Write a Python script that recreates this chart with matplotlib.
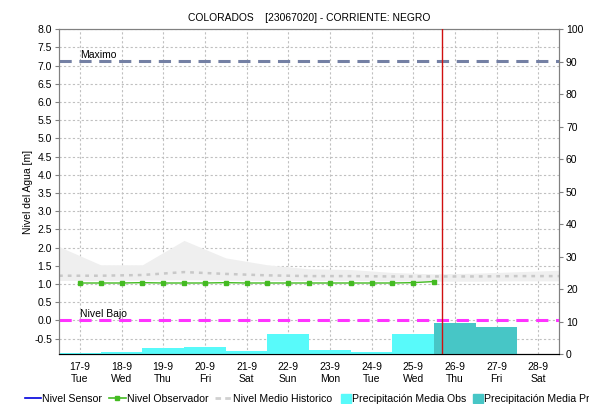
import matplotlib
matplotlib.use('Agg')
import matplotlib.pyplot as plt
from matplotlib.lines import Line2D
from matplotlib.patches import Patch

plt.rcParams['font.family'] = ['Liberation Sans', 'DejaVu Sans']

# ── datos ─────────────────────────────────────────────────────────────────
days     = ['17-9', '18-9', '19-9', '20-9', '21-9', '22-9',
            '23-9', '24-9', '25-9', '26-9', '27-9', '28-9']
weekdays = ['Tue', 'Wed', 'Thu', 'Fri', 'Sat', 'Sun',
            'Mon', 'Tue', 'Wed', 'Thu', 'Fri', 'Sat']

# nivel observador (dos lecturas por dia, en dias desde 17-9)
obs_t = [0.0, 0.5, 1.0, 1.5, 2.0, 2.5, 3.0, 3.5, 4.0,
         4.5, 5.0, 5.5, 6.0, 6.5, 7.0, 7.5, 8.0, 8.5]
obs_level = [1.03, 1.03, 1.03, 1.04, 1.03, 1.03, 1.03, 1.04, 1.03,
             1.03, 1.03, 1.03, 1.03, 1.03, 1.03, 1.03, 1.04, 1.07]

# nivel medio historico y su banda min/max
hist_t    = [-0.5, 0.5, 1.5, 2.5, 3.5, 4.5, 5.5, 6.5, 7.5, 8.5, 9.5, 10.5, 11.5]
hist_mean = [1.23, 1.23, 1.25, 1.33, 1.28, 1.24, 1.22, 1.22, 1.21, 1.21, 1.21, 1.22, 1.22]
hist_max  = [2.03, 1.53, 1.53, 2.20, 1.72, 1.53, 1.42, 1.40, 1.32, 1.28, 1.30, 1.34, 1.38]
hist_min  = [1.10, 1.10, 1.11, 1.12, 1.11, 1.10, 1.10, 1.10, 1.09, 1.08, 1.08, 1.09, 1.09]

# precipitacion media diaria [mm]
precip_obs  = [0.3, 0.6, 1.9, 2.2, 0.8, 6.1, 1.1, 0.5, 6.1]
precip_prog = [9.5, 8.2]
prog_start = len(precip_obs)

nivel_max  = 7.12
nivel_bajo = 0.0
now_t = 8.68

# ── figura ────────────────────────────────────────────────────────────────
fig = plt.figure(figsize=(5.89, 4.04), dpi=100, facecolor='white')
ax = fig.add_axes([0.1002, 0.1238, 0.8489, 0.8037])
ax2 = ax.twinx()

x = list(range(len(days)))

ax.fill_between(hist_t, hist_min, hist_max, color='#efefef', lw=0, zorder=1)
ax.plot(hist_t, hist_mean, color='#c8c8c8', lw=1.8, ls=(0, (1.5, 2)), zorder=2)
ax.plot(obs_t, obs_level, color='#44bb22', lw=1.0, marker='s', ms=2.5,
        mec='#44bb22', zorder=3)

ax.axhline(nivel_max, color='#7480a4', lw=2.2, ls=(0, (4, 2.5)), zorder=3)
ax.axhline(nivel_bajo, color='#ff33ff', lw=2.2, ls=(0, (4, 2.5)), zorder=3)
ax.text(0, nivel_max + 0.05, 'Maximo', fontsize=7.5, ha='left', va='bottom')
ax.text(0, nivel_bajo + 0.05, 'Nivel Bajo', fontsize=7.5, ha='left', va='bottom')

ax.set_xlim(-0.5, 11.5)
ax.set_ylim(-0.92, 8.0)
ax.set_yticks([v / 2 for v in range(-1, 17)])
ax.set_yticklabels([f'{v / 2:.1f}' for v in range(-1, 17)])
ax.set_xticks(x)
ax.set_xticklabels([f'{d}\n{w}' for d, w in zip(days, weekdays)])
ax.grid(color='#c0c0c0', ls=(0, (2, 2)), lw=0.8)
ax.set_axisbelow(True)
ax.set_ylabel('Nivel del Agua [m]', fontsize=7.5, labelpad=1)
ax.set_title('COLORADOS    [23067020] - CORRIENTE: NEGRO', fontsize=7.4, pad=6)

# precipitacion (eje derecho)
ax2.bar(x[:prog_start], precip_obs, width=1.0, color='#58fafa', lw=0, zorder=2)
ax2.bar(x[prog_start:prog_start + len(precip_prog)], precip_prog, width=1.0,
        color='#47c6c6', lw=0, zorder=2)
ax2.axvline(now_t, color='#d01010', lw=1.0, zorder=4)
ax2.set_ylim(0, 100)
ax2.set_yticks(range(0, 101, 10))
ax2.set_ylabel('Precipitación [mm]', fontsize=7.5, labelpad=7)

for a in (ax, ax2):
    for s in ('left', 'right', 'top'):
        a.spines[s].set_color('#808080')
    a.spines['bottom'].set_color('black')
    a.spines['bottom'].set_linestyle((0, (1, 1)))
    a.tick_params(axis='y', labelsize=7.5, length=3, width=0.8, color='#808080', pad=2)
    a.tick_params(axis='x', labelsize=7.5, length=0, pad=6)

# ── leyenda: lineas y barras por separado ─────────────────────────────────
line_handles = [
    Line2D([], [], color='#0000dd', lw=1.2),
    Line2D([], [], color='#44bb22', lw=1.2, marker='s', ms=2.5),
    Line2D([], [], color='#d0d0d0', lw=2, ls=(0, (2, 1.5))),
]
line_labels = ['Nivel Sensor', 'Nivel Observador', 'Nivel Medio Historico']
bar_handles = [Patch(color='#58fafa'), Patch(color='#47c6c6')]
bar_labels = ['Precipitación Media Obs', 'Precipitación Media Pronosticada']

common = dict(loc='lower left', frameon=False, fontsize=7.6,
              handletextpad=0.1, borderpad=0, borderaxespad=0)
fig.legend(line_handles, line_labels, bbox_to_anchor=(25 / 589, 0.0), ncol=3,
           handlelength=1.55, columnspacing=0.65, **common)
fig.legend(bar_handles, bar_labels, bbox_to_anchor=(341 / 589, 0.0), ncol=2,
           handlelength=0.95, handleheight=0.95, columnspacing=0.6, **common)

fig.savefig('out.png', dpi=100, facecolor='white')
